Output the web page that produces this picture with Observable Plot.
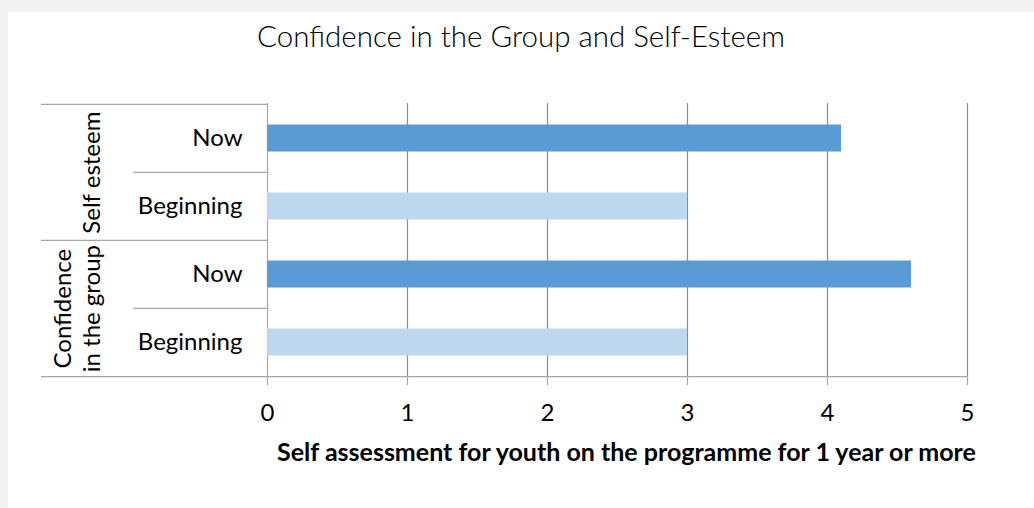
<!DOCTYPE html>
<html><head><meta charset="utf-8">
<script src="https://cdn.jsdelivr.net/npm/d3@7"></script>
<script src="https://cdn.jsdelivr.net/npm/@observablehq/plot@0.6"></script>
<style>
html,body{margin:0;padding:0;background:#f2f2f2;}
#panel{position:absolute;left:8px;top:12px;width:1026px;height:496px;background:#fff;overflow:hidden;}
#title{box-sizing:border-box;height:60px;padding-top:9px;line-height:29px;text-align:center;font-family:Lato,sans-serif;font-weight:300;font-size:29.5px;color:#000;}
#chart svg{display:block;}
</style></head>
<body><div id="panel"><div id="title"></div><div id="chart"></div></div>
<script>
const titleText = "Confidence in the Group and Self-Esteem";
const groups = ["Self esteem", "Confidence\nin the group"];
const periods = ["Now", "Beginning"];
const selfEsteem = [4.1, 3];
const confidence = [4.6, 3];
const xTicks = [0, 1, 2, 3, 4, 5];
const xLabel = "Self assessment for youth on the programme for 1 year or more";

const seriesByGroup = [selfEsteem, confidence];
const rows = [];
groups.forEach((g, gi) => periods.forEach((p, pi) => rows.push({group: g, period: p, key: g + "|" + p, value: seriesByGroup[gi][pi]})));

document.getElementById("title").textContent = titleText;

const W = 1026, H = 436, mL = 259, mR = 67, mT = 31, mB = 132;
const bw = (H - mT - mB) / rows.length;
const plotW = W - mL - mR;
const sepColor = "#a6a6a6";

const chart = Plot.plot({
  width: W, height: H,
  marginLeft: mL, marginRight: mR, marginTop: mT, marginBottom: mB,
  style: {fontFamily: "Lato, sans-serif", color: "#000", background: "transparent", overflow: "visible"},
  x: {domain: [0, 5]},
  y: {domain: rows.map(d => d.key), padding: 0},
  color: {domain: periods, range: ["#5b9bd5", "#bdd7ee"]},
  marks: [
    Plot.gridX(xTicks.slice(1), {stroke: "#8c8c8c", strokeOpacity: 1, strokeWidth: 1.2}),
    Plot.ruleX([0], {stroke: sepColor, strokeWidth: 1.2}),
    Plot.ruleY(rows.filter(d => d.period === periods[0]), {y: "key", dy: -bw / 2, insetLeft: -(mL - 33), insetRight: plotW, stroke: sepColor, strokeWidth: 1.2}),
    Plot.ruleY(rows.filter(d => d.period !== periods[0]), {y: "key", dy: -bw / 2, insetLeft: -(mL - 125), insetRight: plotW, stroke: sepColor, strokeWidth: 1.2}),
    Plot.ruleY(rows.slice(-1), {y: "key", dy: bw / 2, insetLeft: -(mL - 33), insetRight: 0, stroke: sepColor, strokeWidth: 1.2}),
    Plot.barX(rows, {y: "key", x: "value", fill: "period", insetTop: 20.5, insetBottom: 20.5}),
    Plot.axisX(xTicks, {tickSize: 9, tickPadding: 18, stroke: sepColor, strokeWidth: 1.2, fontSize: 24, tickFormat: d3.format("d"), label: null}),
    Plot.axisY({tickSize: 0, tickPadding: 25, tickFormat: k => k.split("|")[1], fontSize: 24, label: null}),
    Plot.text(rows.filter(d => d.period === periods[0]), {y: "key", text: "group", frameAnchor: "left", dx: -168, dy: bw / 2, rotate: -90, textAnchor: "middle", lineAnchor: "bottom", lineHeight: 1.17, fontSize: 24}),
    Plot.text([xLabel], {text: d => d, frameAnchor: "bottom", dx: 9, dy: 84, lineAnchor: "bottom", fontWeight: "bold", fontSize: 25})
  ]
});
document.getElementById("chart").appendChild(chart);
</script>
</body></html>
